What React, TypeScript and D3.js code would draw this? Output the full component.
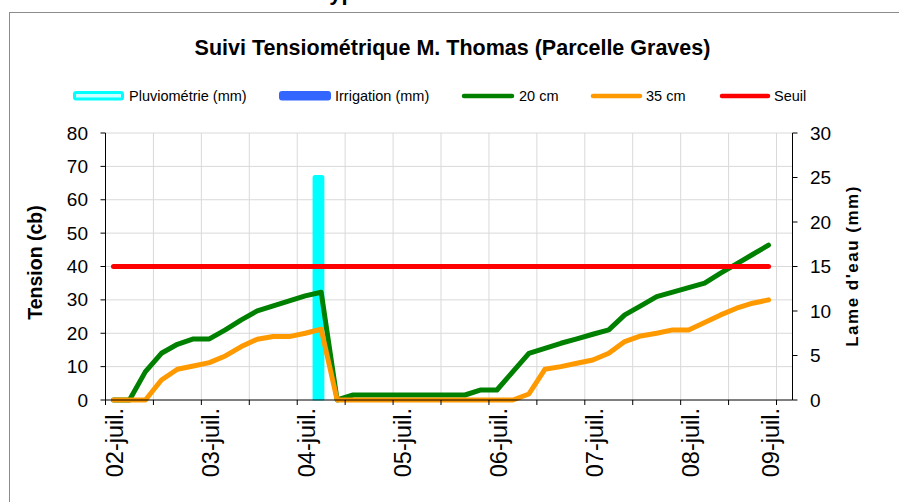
import React from "react";
import * as d3 from "d3";

// ---- Data ----
const dayLabels = ["02-juil.", "03-juil.", "04-juil.", "05-juil.", "06-juil.", "07-juil.", "08-juil.", "09-juil."];
const dayLabelIndex = [0, 6, 12, 18, 24, 30, 36, 41];
const categoryCount = 43;
const tension20 = [0, 0, 8.5, 14, 16.7, 18.3, 18.3, 21, 24, 26.7, 28.2, 29.7, 31.2, 32.3, 0, 1.5, 1.5, 1.5, 1.5, 1.5, 1.5, 1.5, 1.5, 3, 3, 8.5, 14, 15.5, 17, 18.3, 19.7, 21, 25.5, 28.2, 31, 32.3, 33.7, 35, 38, 40.8, 43.6, 46.4];
const tension35 = [0, 0, 0, 6, 9.2, 10.2, 11.2, 13.2, 16, 18.2, 19, 19, 20, 21.2, 0, 0, 0, 0, 0, 0, 0, 0, 0, 0, 0, 0, 1.8, 9.2, 10, 11, 12, 14, 17.5, 19.2, 20, 21, 21, 23.2, 25.5, 27.5, 29, 30];
const seuil = tension20.map(() => 40);
const pluvioIndex = [13];
const pluvioValues = [25];
const irrigationIndex: number[] = [];
const irrigationValues: number[] = [];
const leftTicks = [0, 10, 20, 30, 40, 50, 60, 70, 80];
const rightTicks = [0, 5, 10, 15, 20, 25, 30];

const FONT = "'Liberation Sans', Arial, sans-serif";

export default function App() {
  const L = 105.5, R = 792.5, T = 133, B = 400;
  const x = d3.scaleLinear().domain([0, categoryCount]).range([L, R]);
  const xc = (i: number) => x(i + 0.5);
  const catW = x(1) - x(0);
  const yL = d3.scaleLinear().domain([0, 80]).range([B, T]);
  const yR = d3.scaleLinear().domain([0, 30]).range([B, T]);
  const line = d3.line<number>().x((_, i) => xc(i)).y((d) => yL(d));
  const xTicks = d3.range(0, categoryCount, 3);

  const legend = [
    { label: "Pluviométrie (mm)", type: "bar", color: "#00FFFF", fill: "#CCFFFF", x0: 73, x1: 124, tx: 129 },
    { label: "Irrigation (mm)", type: "bar", color: "#3366FF", fill: "#3366FF", x0: 279, x1: 331, tx: 335 },
    { label: "20 cm", type: "line", color: "#008000", x0: 462, x1: 514, tx: 519 },
    { label: "35 cm", type: "line", color: "#FF9900", x0: 591, x1: 642, tx: 646 },
    { label: "Seuil", type: "line", color: "#FF0000", x0: 720, x1: 770, tx: 774 },
  ];

  return (
    <svg width={899} height={502} style={{ position: "absolute", left: 0, top: 0, background: "#fff" }} fontFamily={FONT}>
      <rect x={0} y={0} width={899} height={502} fill="#fff" />
      <text x={322} y={0} fontSize={22} fontWeight="bold" fill="#000">types</text>
      <rect x={9.5} y={12.5} width={900} height={500} fill="#fff" stroke="#8c8c8c" strokeWidth={1} />
      <text x={452.5} y={55} textAnchor="middle" fontSize={21.5} fontWeight="bold" fill="#000">
        Suivi Tensiométrique M. Thomas (Parcelle Graves)
      </text>

      {/* Legend */}
      {legend.map((d) => (
        <g key={d.label}>
          {d.type === "bar" ? (
            <rect x={d.x0 + 1.5} y={92.5} width={d.x1 - d.x0 - 3} height={6.5} rx={1.5}
              fill={d.fill} stroke={d.color} strokeWidth={3} strokeLinejoin="round" />
          ) : (
            <line x1={d.x0 + 2} x2={d.x1 - 2} y1={96} y2={96} stroke={d.color} strokeWidth={4.5} strokeLinecap="round" />
          )}
          <text x={d.tx} y={96} dominantBaseline="central" fontSize={14.5} fill="#000">{d.label}</text>
        </g>
      ))}

      {/* Grid */}
      {leftTicks.filter((t) => t > 0).map((t) => (
        <line key={"gh" + t} x1={L} x2={R} y1={yL(t)} y2={yL(t)} stroke="#d9d9d9" strokeWidth={1} />
      ))}
      {xTicks.filter((t) => t > 0).map((t) => (
        <line key={"gv" + t} x1={x(t)} x2={x(t)} y1={T} y2={B} stroke="#d9d9d9" strokeWidth={1} />
      ))}

      {/* Bars */}
      {pluvioValues.map((v, k) => {
        const cx = xc(pluvioIndex[k]) - 0.17 * catW;
        return (
          <rect key={"p" + k} x={cx - 3.4} y={yR(v)} width={6.8} height={B - yR(v)}
            fill="#00FFFF" stroke="#00FFFF" strokeWidth={5} strokeLinejoin="round" />
        );
      })}
      {irrigationValues.map((v, k) => {
        const cx = xc(irrigationIndex[k]) + 0.17 * catW;
        return (
          <rect key={"i" + k} x={cx - 3.4} y={yR(v)} width={6.8} height={B - yR(v)}
            fill="#3366FF" stroke="#3366FF" strokeWidth={5} strokeLinejoin="round" />
        );
      })}
      <rect x={L + 1} y={B + 0.5} width={R - L} height={4} fill="#fff" />

      {/* Lines */}
      <path d={line(tension20) || ""} fill="none" stroke="#008000" strokeWidth={5} strokeLinejoin="round" strokeLinecap="round" />
      <path d={line(tension35) || ""} fill="none" stroke="#FF9900" strokeWidth={5} strokeLinejoin="round" strokeLinecap="round" />
      <path d={line(seuil) || ""} fill="none" stroke="#FF0000" strokeWidth={5} strokeLinejoin="round" strokeLinecap="round" />

      {/* Axes */}
      <line x1={L} x2={L} y1={T} y2={B + 5} stroke="#000" strokeWidth={1} />
      <line x1={R} x2={R} y1={T} y2={B} stroke="#000" strokeWidth={1} />
      <line x1={L} x2={R} y1={B} y2={B} stroke="#000" strokeWidth={1} />
      {leftTicks.map((t) => (
        <g key={"lt" + t}>
          <line x1={L - 5} x2={L} y1={yL(t)} y2={yL(t)} stroke="#000" strokeWidth={1} />
          <text x={88} y={yL(t)} textAnchor="end" dominantBaseline="central" fontSize={19} fill="#000">{t}</text>
        </g>
      ))}
      {rightTicks.map((t) => (
        <g key={"rt" + t}>
          <line x1={R} x2={R + 5} y1={yR(t)} y2={yR(t)} stroke="#000" strokeWidth={1} />
          <text x={810} y={yR(t)} textAnchor="start" dominantBaseline="central" fontSize={19} fill="#000">{t}</text>
        </g>
      ))}
      {xTicks.map((t) => (
        <line key={"xt" + t} x1={x(t)} x2={x(t)} y1={B} y2={B + 5} stroke="#000" strokeWidth={1} />
      ))}
      {dayLabels.map((lab, k) => (
        <text key={lab} transform={`translate(${xc(dayLabelIndex[k]) + 2},408) rotate(-90)`}
          textAnchor="end" dominantBaseline="central" fontSize={23.5} fill="#000">{lab}</text>
      ))}

      <text transform="translate(35,262.5) rotate(-90)" textAnchor="middle" dominantBaseline="central"
        fontSize={19.5} fontWeight="bold" fill="#000">Tension (cb)</text>
      <text transform="translate(852,266) rotate(-90)" textAnchor="middle" dominantBaseline="central"
        fontSize={17} fontWeight="bold" letterSpacing={1.5} fill="#000">Lame d'eau (mm)</text>
    </svg>
  );
}
